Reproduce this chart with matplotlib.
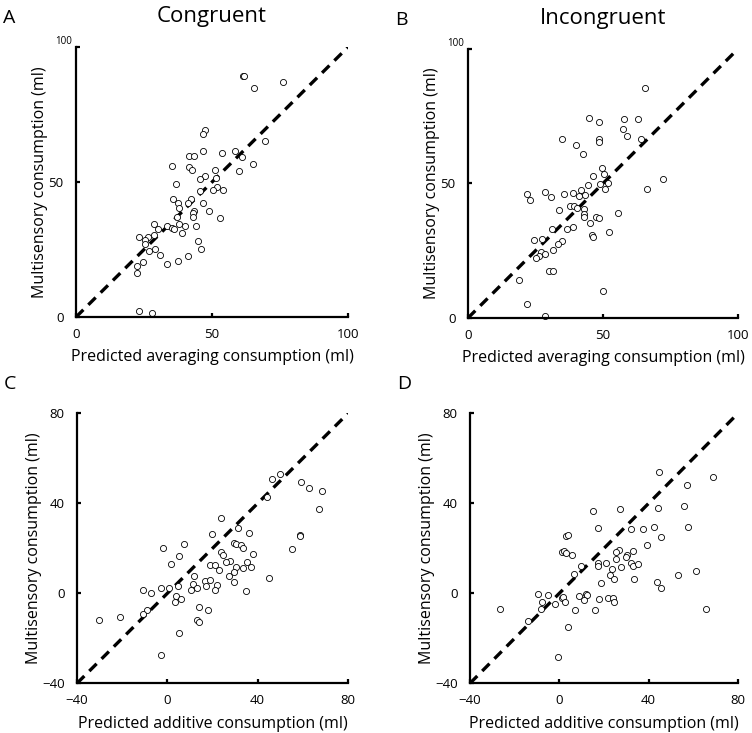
import matplotlib
matplotlib.use("Agg")
import matplotlib.pyplot as plt
import matplotlib.transforms as mtransforms
import numpy as np

plt.rcParams['font.family'] = ['Open Sans', 'DejaVu Sans']

# Panel A: congruent, predicted averaging vs multisensory (ml)
a_x = [61.3, 61.6, 76.1, 65.3, 69.6, 47.5, 46.6, 46.5, 53.5, 58.5, 61.2, 41.7, 43.5,
       35.2, 41.6, 42.8, 64.9, 59.8, 51.2, 51.3, 47.6, 45.5, 36.7, 51.9, 50.4, 54.0,
       45.4, 35.5, 42.3, 37.4, 41.3, 46.6, 37.9, 43.4, 49.0, 43.0, 43.1, 53.0, 37.1,
       28.6, 33.5, 37.7, 40.1, 44.1, 30.0, 35.3, 36.2, 38.8, 28.5, 23.2, 26.4, 25.2,
       25.5, 45.0, 26.7, 29.2, 45.8, 30.9, 24.8, 22.5, 22.3, 33.3, 37.4, 41.2, 23.2, 28.1]
a_y = [89.1, 89.1, 87.0, 84.7, 65.2, 69.1, 67.7, 61.4, 60.8, 61.5, 59.2, 59.5, 59.5,
       55.9, 55.6, 54.5, 56.8, 54.1, 54.5, 51.6, 52.1, 51.2, 49.4, 48.1, 46.9, 47.2,
       46.8, 43.7, 43.6, 42.1, 42.1, 42.1, 40.3, 39.1, 39.4, 38.4, 37.1, 36.6, 36.9,
       34.4, 33.8, 34.3, 33.9, 33.9, 32.5, 32.8, 32.5, 31.3, 30.4, 29.6, 29.6, 28.7,
       27.0, 28.2, 24.6, 25.1, 25.1, 23.1, 20.2, 18.8, 16.2, 19.6, 20.7, 22.5, 2.4, 1.6]

# Panel B: incongruent, predicted averaging vs multisensory (ml)
b_x = [65.6, 44.9, 48.5, 57.8, 62.8, 57.3, 58.9, 64.0, 34.9, 48.6, 48.5, 40.0, 42.5,
       49.6, 50.4, 46.2, 51.7, 49.0, 44.4, 50.7, 72.1, 66.2, 21.9, 23.0, 28.4, 30.6,
       35.6, 39.0, 42.0, 43.3, 41.2, 37.9, 39.1, 40.4, 43.1, 33.8, 43.1, 42.8, 47.4,
       48.5, 45.2, 55.6, 38.8, 36.8, 31.1, 46.0, 46.2, 52.3, 24.4, 27.4, 34.9, 33.2,
       31.6, 27.0, 28.5, 26.4, 25.2, 29.9, 31.6, 19.0, 49.9, 22.0, 28.5]
b_y = [85.4, 74.5, 72.8, 73.8, 74.1, 70.2, 67.6, 66.6, 66.6, 66.5, 65.3, 64.4, 60.8,
       55.9, 53.5, 52.6, 50.1, 49.9, 49.4, 47.9, 51.5, 47.9, 46.2, 43.8, 46.8, 45.0,
       45.9, 46.4, 47.5, 45.7, 45.4, 41.5, 41.5, 40.8, 40.5, 40.2, 38.5, 37.7, 37.4,
       37.3, 35.4, 38.9, 34.0, 33.2, 33.2, 30.7, 30.2, 32.1, 29.1, 29.2, 28.5, 27.5,
       25.2, 24.6, 23.8, 23.1, 22.4, 17.3, 17.6, 14.0, 10.1, 5.3, 0.7]

# Panel C: congruent, predicted additive vs multisensory (ml)
c_x = [49.8, 46.5, 44.0, 59.1, 62.7, 68.3, 67.2, 23.6, 31.5, 36.1, 19.9, 29.5, 30.2,
       32.4, 33.4, 58.8, 58.9, 55.0, -1.9, 7.4, 5.2, 23.9, 24.6, 38.1, 27.7, 26.1,
       35.2, 1.5, 19.0, 21.1, 23.0, 30.5, 33.6, 36.9, 27.5, 29.6, 11.9, 16.6, 18.9,
       22.2, 29.3, 11.2, 13.3, 10.6, 17.2, 20.9, 34.9, 45.2, -10.8, -7.2, -2.9, 0.6,
       4.7, 3.7, 3.4, 5.9, 14.0, 17.8, -8.8, -10.6, -21.1, -30.2, 13.0, 14.1, 5.0, -2.8]
c_y = [53.2, 51.0, 43.0, 49.5, 46.8, 45.3, 37.5, 33.6, 28.9, 26.7, 26.4, 22.5, 21.8,
       21.3, 20.0, 26.1, 25.3, 19.7, 20.3, 21.8, 16.7, 18.4, 17.2, 17.5, 14.4, 13.9,
       14.1, 12.9, 12.6, 12.6, 10.2, 11.6, 11.1, 11.6, 7.6, 9.6, 7.7, 5.3, 5.9,
       3.9, 5.0, 4.1, 2.2, 1.3, 3.1, 1.3, 1.2, 6.8, 1.6, 0.0, 2.5, 2.2,
       3.1, -1.0, -3.9, -2.7, -6.2, -7.4, -7.4, -9.3, -10.5, -11.9, -11.7, -12.9, -17.6, -27.3]

# Panel D: incongruent, predicted additive vs multisensory (ml)
d_x = [44.7, 68.6, 57.0, 55.7, 44.1, 27.0, 15.0, 57.5, 17.3, 32.1, 37.3, 42.2, 45.3,
       3.0, 4.0, 39.3, 26.8, 25.5, 33.2, 1.2, 2.2, 2.8, 5.6, 30.1, 29.8, 25.2, 17.5,
       17.2, 21.0, 27.4, 23.6, 32.0, 33.2, 35.4, 9.8, 6.7, 22.5, 24.4, 33.6, 18.7,
       43.7, 45.3, 53.3, 61.3, 65.8, -9.6, -5.2, 12.1, 12.4, 8.7, 11.1, 1.2, 1.8,
       2.7, -7.9, -8.4, -1.8, 6.8, 17.6, 21.9, 24.0, 24.3, 16.1, -26.5, -14.1, 4.0, -0.6]
d_y = [53.8, 51.9, 48.1, 38.8, 37.8, 37.3, 36.7, 29.3, 29.2, 28.4, 28.7, 29.3, 24.9,
       25.3, 26.1, 21.3, 19.4, 18.5, 18.7, 18.5, 19.0, 17.8, 16.9, 17.0, 16.3, 15.3, 13.6,
       12.3, 13.5, 11.9, 10.7, 13.3, 12.3, 12.9, 12.0, 8.6, 8.0, 6.5, 6.2, 4.4,
       4.9, 2.2, 8.1, 9.8, -7.1, -0.4, -0.9, -0.4, -0.6, -1.2, -3.1, -2.1, -1.6,
       -3.7, -4.0, -7.0, -4.7, -7.4, -2.7, -2.1, -2.2, -4.0, -7.6, -7.1, -12.3, -14.8, -28.1]

avg_ticks = [0, 50, 100]
add_ticks = [-40, 0, 40, 80]

fig = plt.figure(figsize=(7.52, 7.33), dpi=100)

panels = [
    ("A", "Congruent", [0.1011, 0.5675, 0.3617, 0.3683], a_x, a_y, avg_ticks,
     "Predicted averaging consumption (ml)"),
    ("B", "Incongruent", [0.6223, 0.5662, 0.3590, 0.3670], b_x, b_y, avg_ticks,
     "Predicted averaging consumption (ml)"),
    ("C", None, [0.1024, 0.0678, 0.3604, 0.3683], c_x, c_y, add_ticks,
     "Predicted additive consumption (ml)"),
    ("D", None, [0.6250, 0.0678, 0.3564, 0.3683], d_x, d_y, add_ticks,
     "Predicted additive consumption (ml)"),
]

for letter, title, rect, xs, ys, ticks, xlabel in panels:
    ax = fig.add_axes(rect)
    lo, hi = ticks[0], ticks[-1]
    ax.plot([lo, hi], [lo, hi], color='black', lw=2.4, dashes=(3.1, 2.1), zorder=1)
    ax.plot(xs, ys, linestyle='none', marker='o', markersize=4.4,
            markerfacecolor='white', markeredgecolor='black', markeredgewidth=0.6,
            clip_on=False, zorder=2)
    ax.set_xlim(lo, hi)
    ax.set_ylim(lo, hi)
    ax.set_xticks(ticks)
    ax.set_yticks(ticks)
    for side in ('top', 'right'):
        ax.spines[side].set_visible(False)
    for side in ('left', 'bottom'):
        ax.spines[side].set_linewidth(1.6)
    ax.tick_params(direction='in', length=3, width=1.6, labelsize=9.5)
    ax.tick_params(axis='x', pad=8)
    ax.tick_params(axis='y', pad=9)
    # the top y label of the averaging panels is printed small, raised and nearer the axis
    if hi == 100:
        top = ax.get_yticklabels()[-1]
        top.set_fontsize(7)
        shift = mtransforms.ScaledTranslation(6 / 72, 5 / 72, fig.dpi_scale_trans)
        top.set_transform(top.get_transform() + shift)
    ax.set_xlabel(xlabel, fontsize=11.5, labelpad=6)
    ax.set_ylabel("Multisensory consumption (ml)", fontsize=11.5, labelpad=0)

    pos = ax.get_position()
    fig.text(pos.x0 - 0.097, pos.y1 + 0.040, letter, fontsize=14, ha='left', va='center')
    if title:
        fig.text(pos.x0 + pos.width / 2, pos.y1 + 0.042, title, fontsize=16,
                 ha='center', va='center')

fig.savefig("out.png", dpi=100)
